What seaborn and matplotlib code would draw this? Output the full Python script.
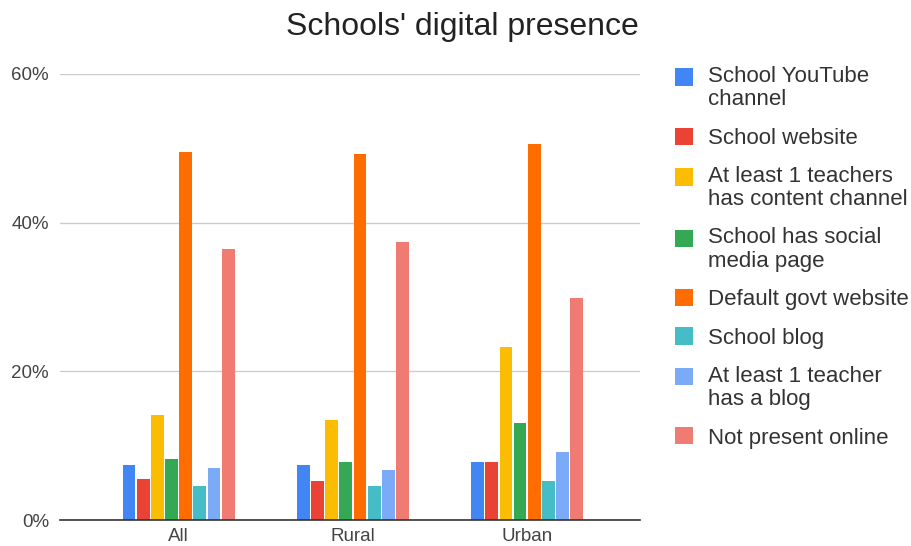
import numpy as np
import pandas as pd
import seaborn as sns
import matplotlib.pyplot as plt
from matplotlib.ticker import FuncFormatter

# values (percent of schools)
groups = ["All", "Rural", "Urban"]
series = ["School YouTube\nchannel", "School website",
          "At least 1 teachers\nhas content channel", "School has social\nmedia page",
          "Default govt website", "School blog",
          "At least 1 teacher\nhas a blog", "Not present online"]
youtube = [7.4, 7.4, 7.85]
website = [5.5, 5.25, 7.85]
teacher_channel = [14.1, 13.4, 23.3]
social_media = [8.25, 7.85, 13.0]
govt_website = [49.5, 49.3, 50.6]
blog = [4.6, 4.6, 5.25]
teacher_blog = [7.0, 6.7, 9.1]
not_online = [36.5, 37.4, 29.8]

colors = ["#4285F4", "#EA4335", "#FBBC04", "#34A853",
          "#FF6D01", "#46BDC6", "#7BAAF7", "#F07B72"]

all_vals = [youtube, website, teacher_channel, social_media,
            govt_website, blog, teacher_blog, not_online]
rows = []
for s, vals in zip(series, all_vals):
    for g, v in zip(groups, vals):
        rows.append({"group": g, "series": s, "value": v})
df = pd.DataFrame(rows)

sns.set_style("white")
plt.rcParams['font.family'] = ['Liberation Sans', 'DejaVu Sans']

fig = plt.figure(figsize=(9.11, 5.46), dpi=100)
ax = fig.add_axes([0.066, 0.0476, 0.637, 0.8169])

sns.barplot(data=df, x="group", y="value", hue="series", hue_order=series,
            palette=colors, width=0.65, gap=0.1, saturation=1, ax=ax,
            legend=True, errorbar=None, linewidth=0)

ax.set_ylim(0, 60)
ax.set_xlim(-0.68, 2.65)
ax.set_yticks([0, 20, 40, 60])
ax.yaxis.set_major_formatter(FuncFormatter(lambda v, p: f"{v:.0f}%"))
ax.grid(axis="y", color="#cccccc", linewidth=1)
ax.set_axisbelow(True)
for side in ["top", "right", "left"]:
    ax.spines[side].set_visible(False)
ax.spines["bottom"].set_color("#333333")
ax.spines["bottom"].set_linewidth(1.2)
ax.tick_params(axis="both", length=0, labelsize=13.5, labelcolor="#444444")
ax.tick_params(axis="y", pad=8)
ax.tick_params(axis="x", pad=6)
ax.set_xlabel("")
ax.set_ylabel("")

fig.text(0.508, 0.951, "Schools' digital presence", ha="center", va="center",
         fontsize=23, color="#222222")

ax.get_legend().remove()
handles, labels = ax.get_legend_handles_labels()
leg = fig.legend(handles, labels, loc="upper left", bbox_to_anchor=(0.741, 0.879),
                 frameon=False, fontsize=16, handlelength=0.81, handleheight=0.81,
                 handletextpad=0.67, labelspacing=0.77, borderpad=0,
                 borderaxespad=0, labelcolor="#333333")
for t in leg.get_texts():
    t.set_linespacing(1.15)
# move the square of two-line entries up to the first line
for h, lab in zip(leg.legend_handles, labels):
    if "\n" in lab:
        h.set_y(h.get_y() + 8.3)

fig.savefig("out.png", dpi=100)
